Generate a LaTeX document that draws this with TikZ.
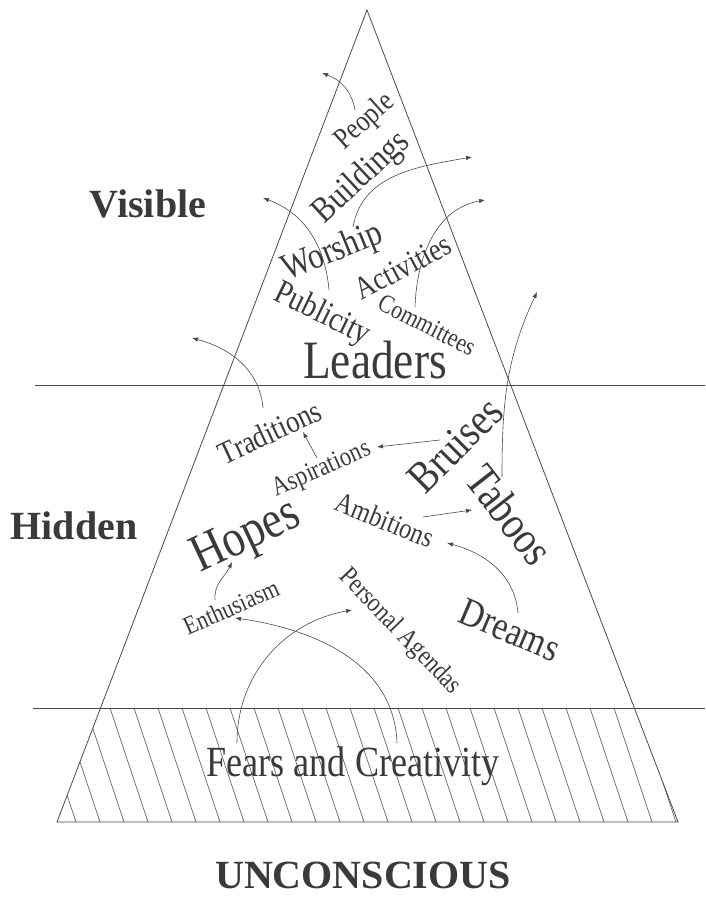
\documentclass[tikz,border=0pt]{standalone}
\usepackage{fontspec}
\setmainfont{Liberation Serif}
\newfontfamily\lblfont[FakeStretch=0.84]{Liberation Serif}
\usetikzlibrary{arrows.meta}
\definecolor{ink}{HTML}{3A3A3A}
\definecolor{rule}{HTML}{4A4A4A}
\newcommand{\lsz}[1]{\fontsize{#1}{#1}\selectfont}
\tikzset{
  lbl/.style={text=ink, inner sep=0pt, font=\lblfont\lsz{#1}},
  layer/.style={text=ink, inner sep=0pt, font=\bfseries\lsz{40}},
  outline/.style={draw=rule, line width=0.8pt},
  hatch/.style={draw=rule, line width=0.6pt},
  conn/.style={draw=rule, line width=0.6pt, -{Latex[length=6pt,width=4.5pt]}}
}

\begin{document}
\begin{tikzpicture}[x=1pt,y=1pt]
  \useasboundingbox (0,0) rectangle (705,899);

  % hatched band at the base
  \begin{scope}
    \clip (100.5,191) -- (634,191) -- (678,77) -- (57,77) -- cycle;
    \foreach \x in {14,38,...,710}
      \draw[hatch] (\x,191) -- ++(38,-114);
  \end{scope}

  % pyramid and layer lines
  \draw[outline] (367,889) -- (678,77) -- (57,77) -- cycle;
  \draw[outline] (35,514) -- (705,514);
  \draw[outline] (33,191) -- (705,191);

  \node[layer] (visible) at (148,695) {Visible};
  \node[layer] (hidden) at (74,373) {Hidden};
  \node[layer] (unconscious) at (363,24) {UNCONSCIOUS};

  % visible part
  \node[lbl=30, rotate=42] (people) at (365,777) {People};
  \node[lbl=36, rotate=43] (buildings) at (362,721) {Buildings};
  \node[lbl=37, rotate=22] (worship) at (333,646) {Worship};
  \node[lbl=32, rotate=28] (activities) at (403,632) {Activities};
  \node[lbl=34, rotate=-26] (publicity) at (322,584) {Publicity};
  \node[lbl=26, rotate=-27] (committees) at (427,574) {Committees};
  \node[lbl=54] (leaders) at (375,539) {Leaders};

  % hidden part
  \node[lbl=32, rotate=25] (traditions) at (270,467) {Traditions};
  \node[lbl=27, rotate=24] (aspirations) at (322,429) {Aspirations};
  \node[lbl=45, rotate=45] (bruises) at (455,454) {Bruises};
  \node[lbl=46, rotate=-52] (taboos) at (510,384) {Taboos};
  \node[lbl=29, rotate=-22] (ambitions) at (385,379) {Ambitions};
  \node[lbl=53, rotate=25] (hopes) at (247,361) {Hopes};
  \node[lbl=26, rotate=24] (enthusiasm) at (231,292) {Enthusiasm};
  \node[lbl=27, rotate=-46] (agendas) at (400,267) {Personal Agendas};
  \node[lbl=40, rotate=-23] (dreams) at (510,269) {Dreams};

  % unconscious part
  \node[lbl=43, anchor=base] (fears) at (353,122) {Fears and Creativity};

  % arrow ends
  \coordinate (people-out) at (355,789);
  \coordinate (people-up) at (322,826);
  \coordinate (buildings-out) at (353,672);
  \coordinate (buildings-up) at (472,742);
  \coordinate (worship-out) at (329,609);
  \coordinate (worship-up) at (263,701);
  \coordinate (committees-out) at (415,592);
  \coordinate (committees-up) at (485,699);
  \coordinate (traditions-out) at (263,491);
  \coordinate (traditions-up) at (192,561);
  \coordinate (taboos-out) at (502,422);
  \coordinate (taboos-up) at (537,607);
  \coordinate (bruises-out) at (440,459);
  \coordinate (aspirations-in) at (377,452);
  \coordinate (aspirations-out) at (317,441);
  \coordinate (traditions-in) at (303,467);
  \coordinate (ambitions-out) at (423,382);
  \coordinate (taboos-in) at (472,389);
  \coordinate (dreams-out) at (518,286);
  \coordinate (ambitions-in) at (447,356);
  \coordinate (enthusiasm-out) at (215,299);
  \coordinate (hopes-in) at (232,337);
  \coordinate (creativity-out) at (397,156);
  \coordinate (enthusiasm-in) at (235,281);
  \coordinate (fears-out) at (237,156);
  \coordinate (agendas-in) at (352,289);

  % connectors
  \draw[conn] (people-out) to[out=100, in=-20] (people-up);
  \draw[conn] (buildings-out) to[out=80, in=190] (buildings-up);
  \draw[conn] (worship-out) to[out=95, in=-20] (worship-up);
  \draw[conn] (committees-out) to[out=88, in=190] (committees-up);
  \draw[conn] (traditions-out) to[out=95, in=-15] (traditions-up);
  \draw[conn] (taboos-out) to[out=90, in=-115] (taboos-up);
  \draw[conn] (bruises-out) -- (aspirations-in);
  \draw[conn] (aspirations-out) -- (traditions-in);
  \draw[conn] (ambitions-out) -- (taboos-in);
  \draw[conn] (dreams-out) to[out=95, in=-15] (ambitions-in);
  \draw[conn] (enthusiasm-out) to[out=95, in=-115] (hopes-in);
  \draw[conn] (creativity-out) to[out=92, in=-8] (enthusiasm-in);
  \draw[conn] (fears-out) to[out=90, in=190] (agendas-in);
\end{tikzpicture}
\end{document}
